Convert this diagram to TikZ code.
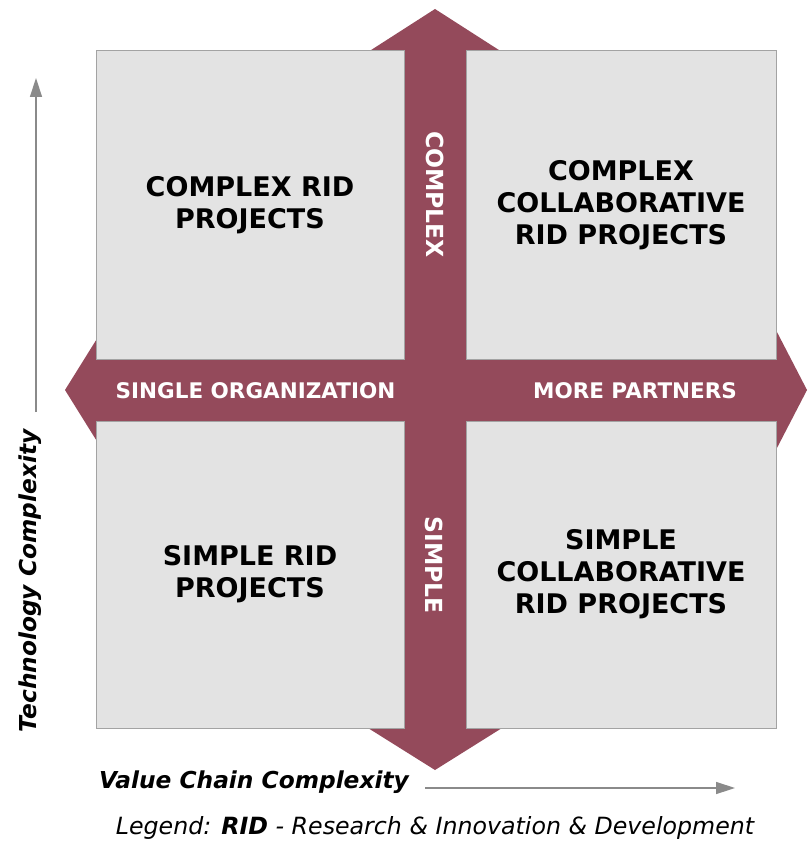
\documentclass[tikz,border=0pt]{standalone}
\usepackage{fontspec}
\setmainfont{DejaVu Sans}
\usetikzlibrary{arrows.meta}
\definecolor{maroon}{HTML}{944A5B}
\definecolor{boxfill}{HTML}{E3E3E3}
\definecolor{boxline}{HTML}{A3A3A3}
\definecolor{axisgray}{HTML}{8A8A8A}
\tikzset{
  quad/.style={draw=boxline, line width=1pt, fill=boxfill, minimum width=308pt, minimum height=308pt, inner sep=0pt, align=center, font=\fontsize{27}{32}\selectfont\bfseries},
  bandlabel/.style={text=white, inner sep=0pt, font=\fontsize{21.5}{24}\selectfont\bfseries},
  vbandlabel/.style={text=white, inner sep=0pt, rotate=-90, font=\fontsize{23.5}{26}\selectfont\bfseries},
  axislabel/.style={inner sep=0pt, font=\fontsize{23.3}{26}\selectfont\bfseries\itshape},
  axisarrow/.style={draw=axisgray, line width=1.4pt, -{Triangle[length=19pt,width=12pt]}},
}
\begin{document}
\begin{tikzpicture}[x=1pt,y=-1pt]
\useasboundingbox (0,0) rectangle (808,845);
% cross arrow (behind the boxes)
\fill[maroon] (404,52) rectangle (466,728);
\fill[maroon] (96,359) rectangle (776,421);
\fill[maroon] (435,9) -- (502,52) -- (368,52) -- cycle;
\fill[maroon] (435,770) -- (502,728) -- (368,728) -- cycle;
\fill[maroon] (65,390) -- (108,321) -- (108,459) -- cycle;
\fill[maroon] (807,390) -- (764,307) -- (764,473) -- cycle;
% quadrants
\node[quad] (tl) at (250,205) {COMPLEX RID\\PROJECTS};
\node[quad, minimum width=310pt] (tr) at (621,205) {COMPLEX\\COLLABORATIVE\\RID PROJECTS};
\node[quad, minimum height=307pt] (bl) at (250,574.5) {SIMPLE RID\\PROJECTS};
\node[quad, minimum width=310pt, minimum height=307pt] (br) at (621,574.5) {SIMPLE\\COLLABORATIVE\\RID PROJECTS};
% band labels
\node[bandlabel] (single) at (255.5,391) {SINGLE ORGANIZATION};
\node[bandlabel] (more) at (635,391) {MORE PARTNERS};
\node[vbandlabel] (complex) at (435,194.5) {COMPLEX};
\node[vbandlabel] (simple) at (434,565) {SIMPLE};
% axes
\coordinate (vstart) at (36,412);
\coordinate (vend) at (36,78);
\draw[axisarrow] (vstart) -- (vend);
\coordinate (hstart) at (425,788);
\coordinate (hend) at (735,788);
\draw[axisarrow] (hstart) -- (hend);
\node[axislabel, rotate=90] (tech) at (30,581) {Technology Complexity};
\node[axislabel, anchor=base] (value) at (254,788) {Value Chain Complexity};
\node[inner sep=0pt, anchor=base, font=\fontsize{23.7}{26}\selectfont\itshape] (legend) at (435,834) {Legend: \textbf{RID} - Research \& Innovation \& Development};
\end{tikzpicture}
\end{document}
